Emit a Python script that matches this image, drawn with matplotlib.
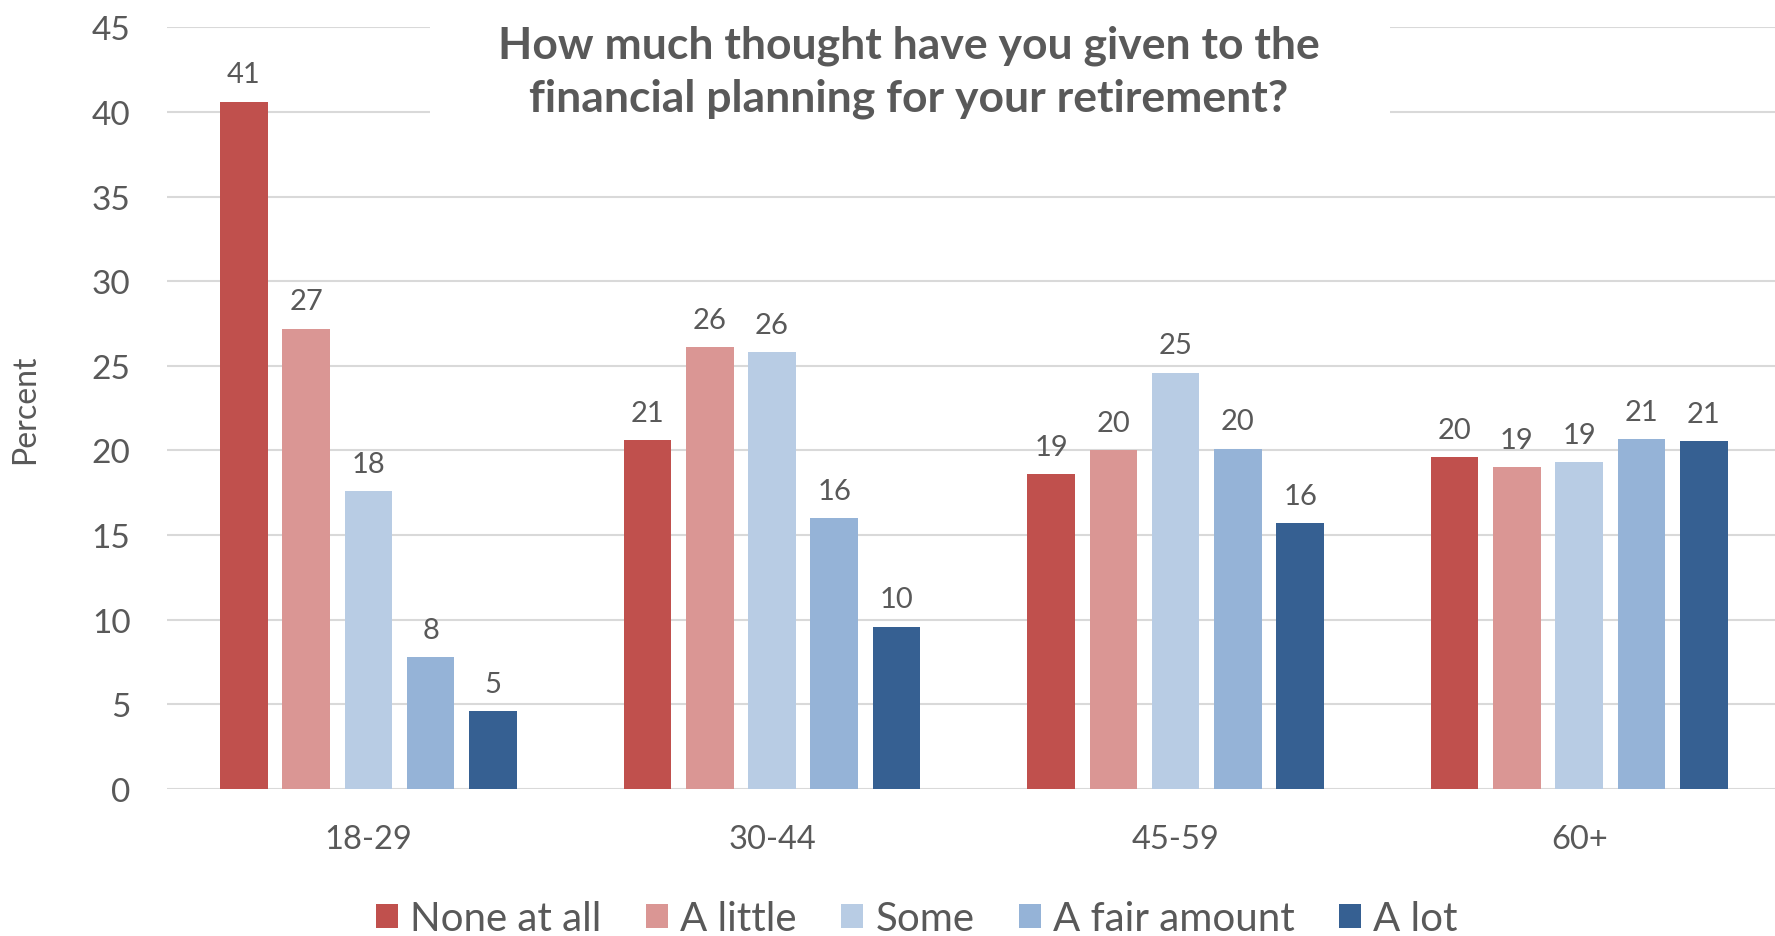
import matplotlib
matplotlib.use("Agg")
import matplotlib.pyplot as plt
from matplotlib.patches import Rectangle
import numpy as np

# Age groups and answer shares (percent)
age_groups = ["18-29", "30-44", "45-59", "60+"]
responses = ["None at all", "A little", "Some", "A fair amount", "A lot"]
none_at_all = [40.6, 20.6, 18.6, 19.6]
a_little = [27.2, 26.1, 20.0, 19.0]
some = [17.6, 25.8, 24.6, 19.3]
a_fair_amount = [7.8, 16.0, 20.1, 20.65]
a_lot = [4.6, 9.6, 15.7, 20.55]
y_ticks = [0, 5, 10, 15, 20, 25, 30, 35, 40, 45]

series = [none_at_all, a_little, some, a_fair_amount, a_lot]
colors = ["#C0504D", "#DA9694", "#B8CCE4", "#95B3D7", "#366092"]
text_color = "#595959"
grid_color = "#D9D9D9"
font = "Lato"

plt.rcParams["font.family"] = [font, "DejaVu Sans"]

W, H = 1775, 937
fig = plt.figure(figsize=(W / 100, H / 100), dpi=100)
ax = fig.add_axes([166.6 / W, (H - 790) / H, (1781 - 166.6) / W, (790 - 28.3) / H])

x = np.arange(len(age_groups))
step = 0.1543
width = 0.118
for i, (vals, col, name) in enumerate(zip(series, colors, responses)):
    pos = x + (i - 2) * step
    bars = ax.bar(pos, vals, width=width, color=col, label=name, zorder=3)
    for b, v in zip(bars, vals):
        ax.annotate(f"{v:.0f}", (b.get_x() + b.get_width() / 2, v),
                    xytext=(0, 14), textcoords="offset points",
                    ha="center", va="baseline", fontsize=21, color=text_color)

ax.set_xlim(-0.5, 3.5)
ax.set_ylim(0, 45)
ax.set_yticks(y_ticks)
ax.set_xticks(x)
ax.set_xticklabels(age_groups)
ax.yaxis.grid(True, color=grid_color, linewidth=1.5, zorder=0)
ax.set_axisbelow(True)
for s in ax.spines.values():
    s.set_visible(False)
ax.tick_params(axis="both", length=0, labelcolor=text_color)
ax.tick_params(axis="y", pad=26, labelsize=24)
ax.tick_params(axis="x", pad=25, labelsize=23.5)

ax.set_ylabel("Percent", fontsize=23, color=text_color)
ax.yaxis.set_label_coords((40 - 166.6) / (1781 - 166.6), 0.5)

# White panel behind the title, interrupting the top gridlines
fig.add_artist(Rectangle((430 / W, (H - 125) / H), (1390 - 430) / W, 115 / H,
                         transform=fig.transFigure, facecolor="white",
                         edgecolor="none", zorder=2))
fig.text(909 / W, (H - 72) / H,
         "How much thought have you given to the\nfinancial planning for your retirement?",
         ha="center", va="center", fontsize=32, fontweight="bold",
         color=text_color, linespacing=1.38, zorder=3)

fig.legend(loc="center", bbox_to_anchor=(917 / W, (H - 920) / H), ncol=5,
           frameon=False, fontsize=29, labelcolor=text_color,
           handlelength=0.55, handleheight=0.55, handletextpad=0.3,
           columnspacing=1.1)

fig.savefig("out.png", dpi=100, facecolor="white")
